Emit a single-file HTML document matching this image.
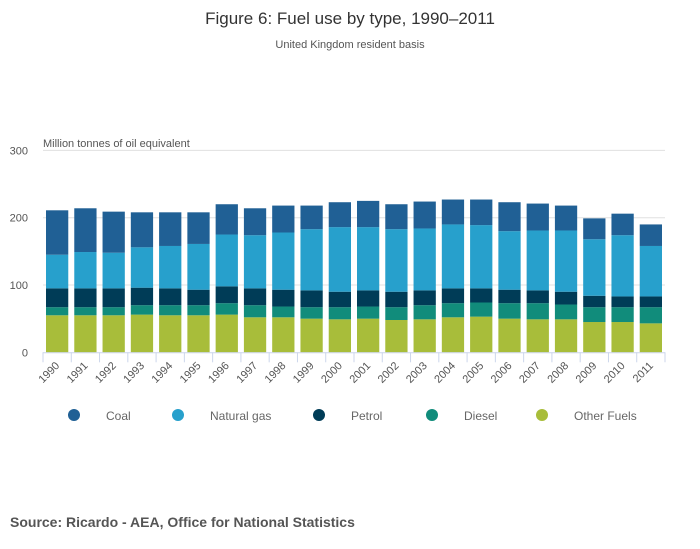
<!DOCTYPE html>
<html><head><meta charset="utf-8"><style>
body{margin:0;background:#fff;width:700px;height:549px;overflow:hidden;font-family:"Liberation Sans",sans-serif;}
svg{display:block}
</style></head><body>
<svg id="c" width="700" height="549">
<text x="350" y="24" text-anchor="middle" font-size="17" fill="#333">Figure 6: Fuel use by type, 1990–2011</text>
<text x="350" y="48" text-anchor="middle" font-size="11" fill="#555">United Kingdom resident basis</text>
<text x="43" y="147" font-size="11" fill="#555">Million tonnes of oil equivalent</text>
<g id="grid"></g><g id="bars"></g><g id="xaxis"></g><g id="legend"></g>
<text x="10" y="527" font-size="14" font-weight="bold" fill="#555">Source: Ricardo - AEA, Office for National Statistics</text>
</svg>
<script>
const years=["1990","1991","1992","1993","1994","1995","1996","1997","1998","1999","2000","2001","2002","2003","2004","2005","2006","2007","2008","2009","2010","2011"];
const other=[55,55,55,56,55,55,56,52,52,50,49,50,48,49,52,53,50,49,49,45,45,43];
const diesel=[12,12,12,14,15,15,17,18,16,17,18,18,19,21,21,21,23,24,22,22,22,24];
const petrol=[28,28,28,26,25,23,25,25,25,25,23,24,23,22,22,21,20,19,19,17,16,16];
const gas=[50,54,53,60,63,68,77,79,85,91,96,94,93,92,95,94,87,89,91,84,91,75];
const coal=[66,65,61,52,50,47,45,40,40,35,37,39,37,40,37,38,43,40,37,31,32,32];
const series=[["other-fuels",other,"#a8bd3a","Other Fuels"],["diesel",diesel,"#118c7b","Diesel"],["petrol",petrol,"#003c57","Petrol"],["natural-gas",gas,"#27a0cc","Natural gas"],["coal",coal,"#206095","Coal"]];
const yTicks=[0,100,200,300];
const NS="http://www.w3.org/2000/svg";
const x0=43,x1=665,y0=352.3,ppu=0.673;
const slot=(x1-x0)/years.length;
const Y=v=>y0-v*ppu, X=i=>x0+i*slot;
function mk(t,a,p){const e=document.createElementNS(NS,t);for(const k in a)e.setAttribute(k,a[k]);p.appendChild(e);return e;}
const g=document.getElementById("grid");
yTicks.forEach(v=>{
 if(v>0){const l=mk("line",{x1:x0,x2:x1,y1:Y(v),y2:Y(v),stroke:"#e0e0e0"},g);
 
 }
 const t=mk("text",{x:28,y:Y(v)+4,"text-anchor":"end","font-size":"11",fill:"#555"},g);t.textContent=v;
 
 
});
const b=document.getElementById("bars");
years.forEach((yr,i)=>{let acc=0;
 series.forEach(s=>{const v=s[1][i];
  const r=mk("rect",{x:X(i)+3,width:slot-6,y:Y(acc+v),height:v*ppu,fill:s[2]},b);
  
  
  acc+=v;});
});
const xa=document.getElementById("xaxis");
const al=mk("line",{x1:x0,x2:x1,y1:y0+0.5,y2:y0+0.5,stroke:"#ccd6eb"},xa);


for(let i=0;i<=years.length;i++){mk("line",{x1:X(i),x2:X(i),y1:y0,y2:y0+10,stroke:"#ccd6eb"},xa);}
years.forEach((yr,i)=>{const cx=X(i)+slot/2+3,cy=y0+14;
 const t=mk("text",{x:cx,y:cy,"text-anchor":"end","font-size":"11",fill:"#555",transform:`rotate(-45 ${cx} ${cy})`},xa);t.textContent=yr;
 
 
});
const lg=document.getElementById("legend");
const order=[[4,74],[3,178],[2,319],[1,432],[0,542]];
order.forEach(([k,x])=>{const s=series[k];
 const gg=mk("g",{},lg);
 
 
 mk("circle",{cx:x,cy:415,r:6,fill:s[2]},gg);
 const t=mk("text",{x:x+32,y:420,"font-size":"12",fill:"#666"},gg);t.textContent=s[3];
});
</script>
</body></html>
